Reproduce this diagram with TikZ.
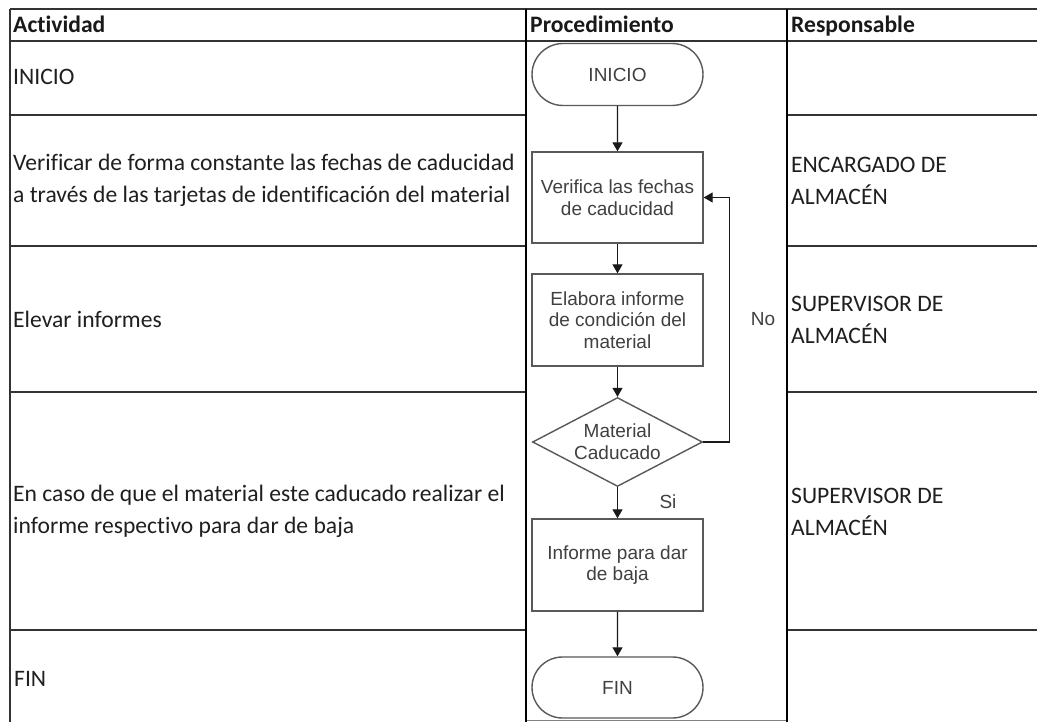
\documentclass[tikz,border=0pt]{standalone}
\usepackage{fontspec}
\setmainfont{Carlito}[Ligatures=NoCommon]
\newfontfamily\arialf{Liberation Sans}
\usetikzlibrary{shapes.geometric,shapes.misc,arrows.meta}
\begin{document}
\begin{tikzpicture}[x=1pt,y=-1pt,
  tline/.style={line width=1.4pt, draw=black!80},
  pline/.style={line width=2.6pt, draw=black},
  celltxt/.style={anchor=west, inner sep=0pt, align=left, text=black!88, font=\fontsize{23.6}{32}\selectfont},
  headtxt/.style={anchor=base west, inner sep=0pt, text=black!90, font=\fontsize{23.6}{28}\selectfont\bfseries},
  fbox/.style={draw=black!65, line width=1.4pt, minimum width=171pt, inner sep=0pt, align=center, text=black!75, font=\arialf\fontsize{19}{21.7}\selectfont},
  term/.style={fbox, rounded rectangle},
  proc/.style={fbox, rectangle},
  dec/.style={fbox, diamond, aspect=1.9, minimum width=170pt, minimum height=89pt},
  flow/.style={line width=1.3pt, draw=black!90, -{Triangle[width=10pt,length=9pt]}},
  lbl/.style={inner sep=0pt, text=black!75, font=\arialf\fontsize{19}{21.7}\selectfont}
]
\useasboundingbox (0,0) rectangle (1037,722);
\fill[white] (0,0) rectangle (1037,722);

% table lines
\draw[tline] (10,9) -- (1037,9);
\draw[tline] (10,41) -- (1037,41);
\foreach \yy in {115,246,392,630}{
  \draw[tline] (10,\yy) -- (526,\yy);
  \draw[tline] (787,\yy) -- (1037,\yy);
}
\draw[line width=1.2pt, draw=black!50] (526,720.5) -- (787,720.5);
\draw[tline] (10,9) -- (10,722);
\draw[pline] (526,9) -- (526,722);
\draw[pline] (787,9) -- (787,722);

% headers
\node[headtxt] (hA) at (13,33) {Actividad};
\node[headtxt] (hP) at (530,33) {Procedimiento};
\node[headtxt] (hR) at (791,33) {Responsable};

% activity column
\node[celltxt] (a1) at (13,77) {INICIO};
\node[celltxt] (a2) at (13,180.5) {Verificar de forma constante las fechas de caducidad\\a través de las tarjetas de identificación del material};
\node[celltxt] (a3) at (13,319) {Elevar informes};
\node[celltxt] (a4) at (13,511) {En caso de que el material este caducado realizar el\\informe respectivo para dar de baja};
\node[celltxt] (a5) at (14,679) {FIN};

% responsible column
\node[celltxt] (r2) at (791,180.5) {ENCARGADO DE\\ALMACÉN};
\node[celltxt] (r3) at (791,320) {SUPERVISOR DE\\ALMACÉN};
\node[celltxt] (r4) at (791,512) {SUPERVISOR DE\\ALMACÉN};

% flowchart
\node[term, minimum height=62pt] (ini) at (617.5,74.5) {INICIO};
\node[proc, minimum height=91pt] (ver) at (617.5,197.5) {Verifica las fechas\\de caducidad};
\node[proc, minimum height=92pt] (ela) at (617.5,320) {Elabora informe\\de condición del\\material};
\node[dec] (dia) at (617.5,442) {Material\\Caducado};
\node[proc, minimum height=92pt] (inf) at (617.5,565) {Informe para dar\\de baja};
\node[term, minimum height=61pt] (fin) at (617.5,687.5) {FIN};

\draw[flow] (ini) -- (ver);
\draw[flow] (ver) -- (ela);
\draw[flow] (ela) -- (dia);
\draw[flow] (dia) -- (inf);
\draw[flow] (inf) -- (fin);
\draw[flow] (dia.east) -- ++(26,0) |- (ver.east);

\node[lbl] (si) at (668,502) {Si};
\node[lbl] (no) at (763,319) {No};
\end{tikzpicture}
\end{document}
